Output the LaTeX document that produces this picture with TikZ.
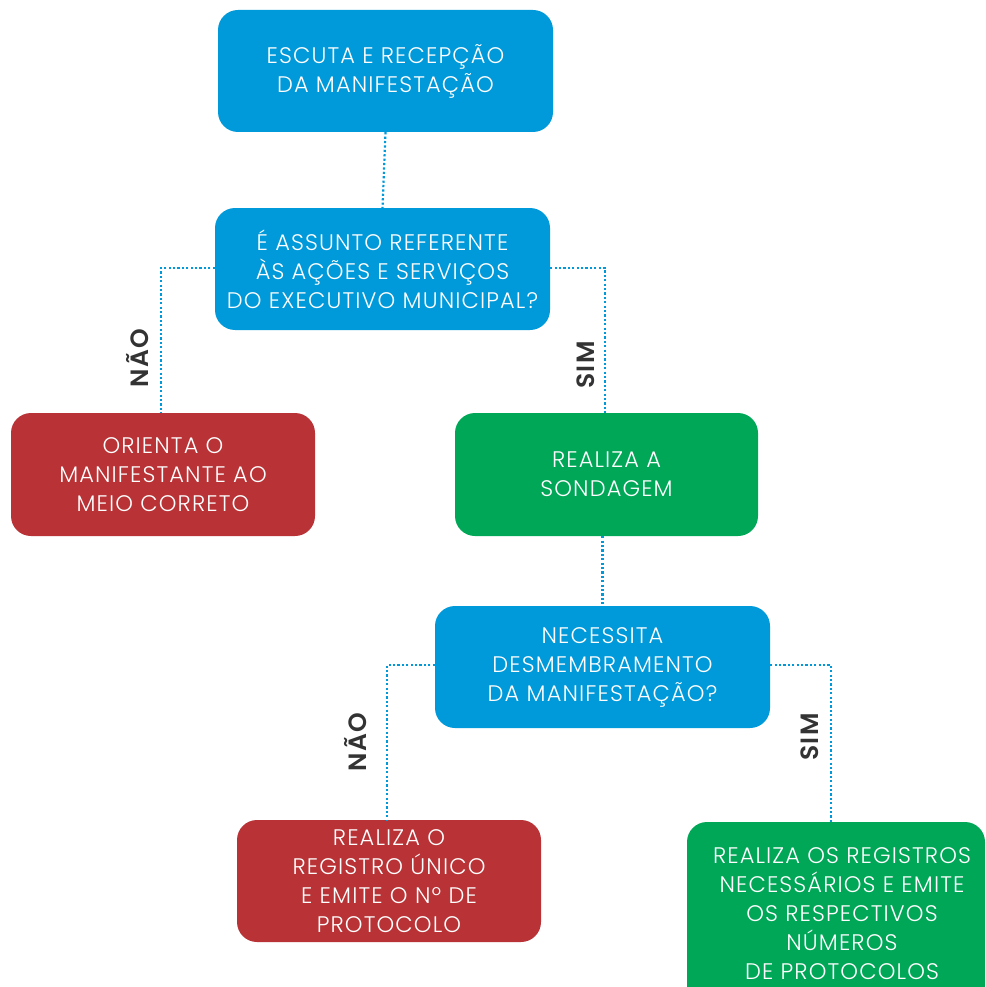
\documentclass[tikz,border=0pt]{standalone}
\usepackage{fontspec}
\setmainfont{Poppins}[UprightFont=* Light,BoldFont=* SemiBold,LetterSpace=5]
\definecolor{cblue}{HTML}{0099DA}
\definecolor{cred}{HTML}{B83236}
\definecolor{cgreen}{HTML}{00A757}
\definecolor{clabel}{HTML}{333333}
\begin{document}
\begin{tikzpicture}[x=1pt,y=-1pt,
  box/.style={rectangle,rounded corners=20pt,draw=none,text=white,align=center,
    font=\fontsize{22.5}{29}\selectfont,inner sep=0pt},
  bluebox/.style={box,fill=cblue},
  redbox/.style={box,fill=cred},
  greenbox/.style={box,fill=cgreen},
  link/.style={cblue,line width=2.2pt,dash pattern=on 2.2pt off 2.2pt},
  lab/.style={text=clabel,font=\bfseries\fontsize{25}{25}\selectfont,rotate=90,inner sep=0pt}]
\useasboundingbox (0,0) rectangle (985,987);
\node[bluebox,minimum width=335pt,minimum height=122pt] (a) at (385.5,71) {ESCUTA E RECEPÇÃO\\DA MANIFESTAÇÃO};
\node[bluebox,minimum width=335pt,minimum height=122pt] (q1) at (382.5,269) {É ASSUNTO REFERENTE\\ÀS AÇÕES E SERVIÇOS\\DO EXECUTIVO MUNICIPAL?};
\node[redbox,minimum width=304pt,minimum height=123pt] (r1) at (163,474.5) {ORIENTA O\\MANIFESTANTE AO\\MEIO CORRETO};
\node[greenbox,minimum width=303pt,minimum height=123pt] (g1) at (606.5,474.5) {REALIZA A\\SONDAGEM};
\node[bluebox,minimum width=335pt,minimum height=122pt] (q2) at (602.5,667) {NECESSITA\\DESMEMBRAMENTO\\DA MANIFESTAÇÃO?};
\node[redbox,minimum width=304pt,minimum height=122pt] (r2) at (389,881) {REALIZA O\\REGISTRO ÚNICO\\E EMITE O Nº DE\\PROTOCOLO};
\node[greenbox,minimum width=298pt,minimum height=184pt] (g2) at (836,914) {\hspace*{12pt}REALIZA OS REGISTROS\\\hspace*{12pt}NECESSÁRIOS E EMITE\\\hspace*{12pt}OS RESPECTIVOS\\\hspace*{12pt}NÚMEROS\\\hspace*{12pt}DE PROTOCOLOS};
\coordinate (c1l) at (161,268);
\coordinate (c1r) at (605,268);
\coordinate (c2l) at (387,665);
\coordinate (c2r) at (831,665);
\draw[link] (a.south) -- (q1.north);
\draw[link] (q1.west |- c1l) -- (c1l) -- (c1l |- r1.north);
\draw[link] (q1.east |- c1r) -- (c1r) -- (c1r |- g1.north);
\draw[link] (g1.south -| q2.north) -- (q2.north);
\draw[link] (q2.west |- c2l) -- (c2l) -- (c2l |- r2.north);
\draw[link] (q2.east |- c2r) -- (c2r) -- (c2r |- g2.north);
\node[lab] (l1) at (138,358) {NÃO};
\node[lab] (l2) at (586,365) {SIM};
\node[lab] (l3) at (356,742) {NÃO};
\node[lab] (l4) at (810,737) {SIM};
\end{tikzpicture}
\end{document}
